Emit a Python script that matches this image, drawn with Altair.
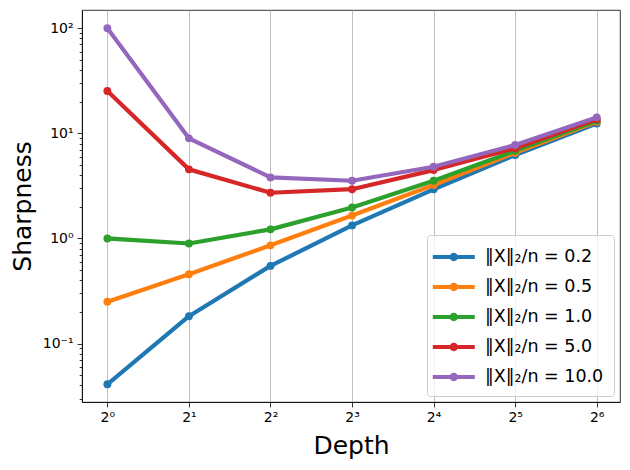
import altair as alt
import pandas as pd

# Network depth (log2 axis)
depth = [1, 2, 4, 8, 16, 32, 64]

# Input norm ratios ||X||_2 / n for each curve
ratios = ["0.2", "0.5", "1.0", "5.0", "10.0"]

# Sharpness measured at each depth, one list per ratio
sharp_02 = [0.041, 0.182, 0.548, 1.33, 2.93, 6.21, 12.4]
sharp_05 = [0.25, 0.457, 0.86, 1.65, 3.22, 6.53, 12.9]
sharp_10 = [1.0, 0.895, 1.22, 1.97, 3.54, 6.82, 13.2]
sharp_50 = [25.3, 4.54, 2.72, 2.94, 4.47, 7.2, 13.6]
sharp_100 = [100.0, 8.96, 3.81, 3.54, 4.81, 7.74, 14.2]

series_values = [sharp_02, sharp_05, sharp_10, sharp_50, sharp_100]
colors = ["#1f77b4", "#ff7f0e", "#2ca02c", "#d62728", "#9467bd"]
labels = [f"‖X‖₂/n = {r}" for r in ratios]

x_tick_labels = ["2⁰", "2¹", "2²", "2³", "2⁴", "2⁵", "2⁶"]
y_major = [0.1, 1, 10, 100]
y_major_labels = ["10⁻¹", "10⁰", "10¹", "10²"]
y_minor = [round(m * 10.0 ** k, 6) for k in (-2, -1, 0, 1) for m in range(2, 10)]
y_minor = [v for v in y_minor if 0.028 < v < 149]

rows = []
for lab, vals in zip(labels, series_values):
    for d, v in zip(depth, vals):
        rows.append({"depth": d, "sharpness": v, "series": lab})
df = pd.DataFrame(rows)

FONT = "DejaVu Sans"


def label_lookup(values, texts):
    # nested ternary: value -> tick text
    expr = "''"
    for v, t in reversed(list(zip(values, texts))):
        expr = f"datum.value == {v} ? '{t}' : ({expr})"
    return expr


x_scale = alt.Scale(type="log", base=2, domain=[0.806, 78], nice=False)
y_scale = alt.Scale(type="log", domain=[0.0278, 149], nice=False)
color_scale = alt.Scale(domain=labels, range=colors)

x_axis = alt.Axis(
    values=depth,
    labelExpr=label_lookup(depth, x_tick_labels),
    orient="bottom",
    title="Depth",
    titleX=269,
    titleY=51,
    titleBaseline="alphabetic",
    titleAlign="center",
    labelPadding=4,
    tickSize=4.9,
)
y_axis_major = alt.Axis(
    values=y_major,
    labelExpr=label_lookup(y_major, y_major_labels),
    orient="left",
    title="Sharpness",
    titleX=-52,
    titleY=196,
    titleAngle=270,
    titleBaseline="alphabetic",
    titleAlign="center",
    labelPadding=4,
    tickSize=4.9,
)
y_axis_minor = alt.Axis(
    values=y_minor,
    orient="left",
    title=None,
    labels=False,
    grid=False,
    domain=False,
    tickSize=2.8,
)

# legend key: a short line segment with a dot in its middle
legend_symbol = (
    "M-1.35,-0.175L2.15,-0.175L2.15,0.175L-1.35,0.175Z "
    "M0.05,0A0.35,0.35,0,1,1,0.75,0A0.35,0.35,0,1,1,0.05,0Z"
)
legend = alt.Legend(
    title=None,
    orient="bottom-right",
    offset=6,
    symbolType=legend_symbol,
    symbolSize=576,
    symbolStrokeWidth=0,
    symbolOpacity=1,
    labelFont=FONT,
    labelFontSize=17.5,
    labelColor="black",
    labelOffset=24,
    rowPadding=9,
    padding=10,
    fillColor="rgba(255,255,255,0.8)",
    strokeColor="#cccccc",
    cornerRadius=3,
)


def series_layer(lab, kind, y_axis):
    base = alt.Chart(df).transform_filter(alt.datum.series == lab)
    enc = dict(
        x=alt.X("depth:Q", scale=x_scale, axis=x_axis),
        y=alt.Y("sharpness:Q", scale=y_scale, axis=y_axis),
        color=alt.Color("series:N", scale=color_scale, legend=legend),
    )
    if kind == "line":
        return base.mark_line(strokeWidth=4.2, strokeJoin="round", strokeCap="square").encode(**enc)
    return base.mark_point(filled=True, size=62, opacity=1, shape="circle").encode(**enc)


# first series' markers carry the minor y ticks; everything else shares the major y axis
first_pts = series_layer(labels[0], "point", y_axis_minor)
rest = [series_layer(labels[0], "line", y_axis_major)]
for lab in labels[1:]:
    rest += [series_layer(lab, "line", y_axis_major), series_layer(lab, "point", y_axis_major)]

chart = (
    alt.layer(first_pts, alt.layer(*rest))
    .resolve_axis(y="independent")
    .properties(
        width=538,
        height=392,
        padding={"left": 82, "top": 10, "right": 10, "bottom": 68},
        autosize=alt.AutoSizeParams(type="none"),
        background="white",
    )
    .configure_view(stroke="black", strokeWidth=0.8)
    .configure_axis(
        labelFont=FONT,
        labelFontSize=14,
        labelColor="black",
        tickColor="black",
        tickWidth=0.8,
        domainColor="black",
        domainWidth=0.8,
        gridColor="#b0b0b0",
        gridWidth=0.8,
        titleFont=FONT,
        titleFontSize=25,
        titleFontWeight="normal",
        titleColor="black",
    )
)

chart.save("out.html", embed_options={"renderer": "svg", "actions": False})
